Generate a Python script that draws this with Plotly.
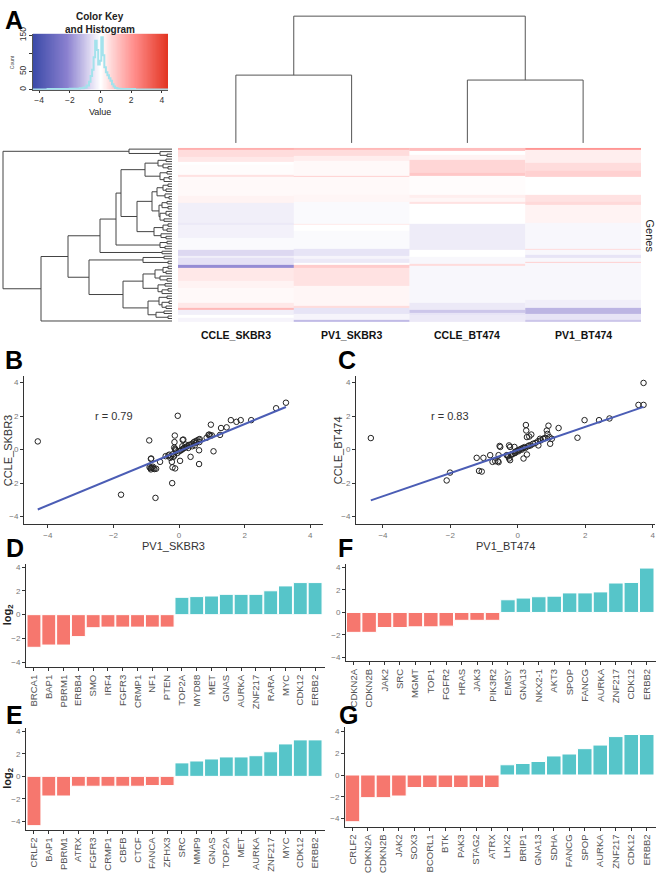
import numpy as np
import plotly.graph_objects as go

# ---------- data ----------
SAMPLES = ["CCLE_SKBR3", "PV1_SKBR3", "CCLE_BT474", "PV1_BT474"]

# heatmap bands per sample: (number of gene rows, log2 value), top to bottom
HEAT_CCLE_SKBR3 = [(2, 1.5), (7, 0.6), (5, 0.4), (3, 0.0), (10, 0.05), (2, 0.5), (20, 0.1), (7, 0.2),
                   (20, -0.3), (2, -0.4), (13, -0.25), (13, -0.1), (6, -0.7), (2, -0.3), (7, -0.55),
                   (3, -2.0), (13, 0.4), (7, 0.2), (15, 0.1), (5, 0.4), (2, 1.3), (6, -0.3), (3, 0.0), (4, -0.2)]
HEAT_PV1_SKBR3 = [(2, 1.3), (6, 0.6), (5, 0.3), (15, 0.1), (1, 0.8), (19, 0.1), (7, 0.15), (22, -0.1),
                  (1, 0.35), (6, 0.0), (19, -0.1), (7, -0.5), (3, -0.2), (4, -0.4), (2, 0.0), (3, 0.9),
                  (18, 0.5), (20, 0.15), (2, 0.6), (6, -0.5), (7, -0.2), (2, -1.2)]
HEAT_CCLE_BT474 = [(3, 1.2), (4, 0.0), (5, 0.2), (13, 0.7), (3, 1.0), (20, 0.05), (3, 0.3), (4, 0.15),
                   (2, 0.5), (20, 0.0), (27, -0.35), (7, 0.0), (7, -0.15), (2, 0.6), (37, -0.15),
                   (7, -0.4), (3, -1.0), (3, -0.5), (7, -0.4)]
HEAT_PV1_BT474 = [(2, 2.0), (13, 0.3), (8, 0.6), (6, 0.8), (19, 0.0), (7, 0.5), (3, 0.65), (18, 0.2),
                  (27, -0.15), (1, 0.6), (5, -0.15), (3, -0.5), (4, -0.15), (1, 0.8), (37, -0.15),
                  (8, -0.3), (6, -1.3), (7, -0.5), (2, -1.0)]

# colour key histogram
HIST_BINS = [-4.4, -2.5, -1.5, -1.2, -1.0, -0.8, -0.7, -0.6, -0.5, -0.4, -0.3, -0.2, -0.1, 0.0,
             0.1, 0.2, 0.3, 0.4, 0.5, 0.6, 0.7, 0.8, 0.9, 1.0, 1.2, 1.5, 2.0, 2.5, 4.4]
HIST_COUNTS = [1, 2, 3, 4, 6, 12, 22, 38, 55, 90, 135, 110, 70, 80,
               145, 95, 62, 48, 40, 32, 25, 15, 9, 5, 3, 2, 2, 1, 1]

# dendrograms: (merge height, left, right); "g" = leaf
g = "g"
COL_TREE = (1.0, (0.535, "CCLE_SKBR3", "PV1_SKBR3"), (0.496, "CCLE_BT474", "PV1_BT474"))
ROW_TREE = (169,
    (43, g, (12, g, (5, g, g))),
    (131,
        (104,
            (72,
                (56,
                    (51,
                        (27, (14, (6, g, g), (9, g, (4, g, g))),
                             (12, (5, g, g), (8, (3, g, g), g))),
                        (35,
                            (20, (15, (9, (4, g, g), (6, g, g)), (7, g, (3, g, g))),
                                 (13, (10, (5, g, g), (4, g, g)), (12, (6, g, (3, g, g)), (8, g, g)))),
                            (18, (9, (4, g, g), (5, g, g)), (11, g, (6, g, g))))),
                    (12, (5, g, g), (7, g, g))),
                (10, g, g)),
            (83,
                (29, (8, g, g), (4, g, g)),
                (49,
                    (29, (17, (9, (4, g, g), (6, g, g)), (12, g, (5, g, g))),
                         (14, (7, g, g), (10, (4, g, g), g))),
                    (24, (13, (5, g, g), (10, (3, g, g), (6, g, g))),
                         (16, (8, g, g), (4, g, g)))))),
        g))

# scatter B: PV1_SKBR3 vs CCLE_SKBR3
B_X = [-4.31, -1.77, -0.91, -0.72, -0.21, -0.04, -0.85, -0.86,
       -0.90, -0.87, -0.83, -0.78, -0.75, -0.70, -0.86, -0.80,
       -0.58, -0.41, -0.33, -0.27, -0.22, -0.19, -0.17, -0.25, -0.30, -0.15,
       -0.20, -0.12, -0.14, -0.13, -0.15, -0.11, -0.12, -0.10, 0.03,
       -0.05, 0.00, 0.05, 0.08, 0.12, 0.15, 0.20, 0.25, 0.30, 0.35, 0.40, 0.45, 0.50, 0.55, 0.60,
       0.10, 0.13, 0.11, 0.20, 0.28, 0.40, 0.52, 0.48, 0.62, 0.63,
       0.35, 0.61, 0.61, 1.05, 0.97, 0.90, 0.95, 0.84, 0.92, 1.00, 1.25,
       1.28, 1.45, 1.58, 1.75, 1.88, 2.20, 2.96, 3.26]
B_Y = [0.49, -2.69, 0.55, -2.88, -2.00, 2.02, -0.53, -0.55,
       -1.05, -1.10, -1.08, -1.12, -1.16, -1.14, -1.18, -1.02,
       -0.73, -0.39, -0.35, -0.49, -0.73, -0.27, -0.43, -0.40, -0.30, -0.35,
       -1.06, -1.12, 0.45, 0.84, 0.12, 0.00, 0.05, -0.05, -0.67,
       -0.20, -0.10, -0.05, 0.00, 0.05, 0.10, 0.15, 0.20, 0.28, 0.30, 0.35, 0.45, 0.50, 0.55, 0.60,
       0.20, 0.60, 0.58, 0.30, 0.10, 0.20, 0.41, 0.25, 0.45, 0.63,
       -0.43, -0.04, -0.86, -0.10, 1.49, 0.88, 0.84, 0.71, 0.90, 0.85, 0.88,
       1.29, 1.33, 1.76, 1.66, 1.76, 1.76, 2.47, 2.80]
B_FIT = (0.808, -0.09)
B_R = 0.79

# scatter C: PV1_BT474 vs CCLE_BT474
C_X = [-4.36, -2.11, -2.01, -1.15, -1.07, -1.22, -1.02, -0.82,
       -0.75, -0.67, -0.59, -0.57, -0.54, -0.52, -0.57, -0.33,
       -0.26, -0.23, -0.26, -0.23, -0.30, -0.20, -0.15, -0.10, -0.05, 0.00, 0.05, 0.10, 0.15, 0.20,
       -0.28, -0.18, -0.08, 0.02, 0.12, 0.22, 0.30, 0.38, 0.45, 0.52, 0.60, 0.68, 0.75, 0.82,
       -0.10, 0.17, 0.24, 0.25, 0.27, 0.34, 0.40, 0.27, 0.34, 0.61,
       0.66, 0.76, 0.86, 0.91, 0.88, 0.94, 0.96, 1.01, 1.21, 1.77, 1.98, 2.41, 2.72, 3.58, 3.73, 3.73]
C_Y = [0.69, -1.84, -1.37, -1.27, -1.31, -0.49, -0.49, -0.33,
       -0.73, -0.69, -0.69, -0.75, 0.22, 0.16, -0.33, -0.33,
       0.25, 0.16, -0.53, -0.63, -0.35, -0.30, -0.25, -0.20, -0.10, -0.05, 0.00, 0.05, 0.10, 0.15,
       -0.40, -0.30, -0.20, -0.10, 0.00, 0.10, 0.20, 0.25, 0.35, 0.40, 0.50, 0.55, 0.65, 0.70,
       0.16, -0.53, 1.47, 1.14, 0.75, 0.78, 0.90, -0.29, 0.25, 0.25,
       0.65, 0.65, 1.14, 1.43, 0.94, 0.75, 0.35, 0.65, 1.29, 0.71, 1.76, 1.76, 1.86, 2.67, 2.67, 3.98]
C_FIT = (0.69, -0.02)
C_R = 0.83

# bar panels
D_GENES = ["BRCA1", "BAP1", "PBRM1", "ERBB4", "SMO", "IRF4", "FGFR3", "CRMP1", "NF1", "PTEN",
           "TOP2A", "MYD88", "MET", "GNAS", "AURKA", "ZNF217", "RARA", "MYC", "CDK12", "ERBB2"]
D_VALS = [-2.75, -2.56, -2.56, -1.85, -1.10, -1.05, -1.05, -1.05, -1.05, -1.05,
          1.46, 1.52, 1.57, 1.71, 1.71, 1.71, 2.01, 2.42, 2.70, 2.70]
E_GENES = ["CRLF2", "BAP1", "PBRM1", "ATRX", "FGFR3", "CRMP1", "CBFB", "CTCF", "FANCA", "ZFHX3",
           "SRC", "MMP9", "GNAS", "TOP2A", "MET", "AURKA", "ZNF217", "MYC", "CDK12", "ERBB2"]
E_VALS = [-4.39, -1.75, -1.75, -0.88, -0.88, -0.88, -0.88, -0.88, -0.82, -0.82,
          1.20, 1.37, 1.55, 1.73, 1.73, 1.84, 2.19, 2.89, 3.25, 3.25]
F_GENES = ["CDKN2A", "CDKN2B", "JAK2", "SRC", "MGMT", "TOP1", "FGFR2", "HRAS", "JAK3", "PIK3R2",
           "EMSY", "GNA13", "NKX2-1", "AKT3", "SPOP", "FANCG", "AURKA", "ZNF217", "CDK12", "ERBB2"]
F_VALS = [-1.77, -1.77, -1.34, -1.34, -1.28, -1.28, -1.22, -0.70, -0.70, -0.70,
          1.13, 1.28, 1.40, 1.45, 1.74, 1.74, 1.83, 2.62, 2.67, 3.95]
G_GENES = ["CRLF2", "CDKN2A", "CDKN2B", "JAK2", "SOX3", "BCORL1", "BTK", "PAK3", "STAG2", "ATRX",
           "LHX2", "BRIP1", "GNA13", "SDHA", "FANCG", "SPOP", "AURKA", "ZNF217", "CDK12", "ERBB2"]
G_VALS = [-4.29, -2.08, -2.08, -1.93, -1.15, -1.15, -1.15, -1.15, -1.15, -1.15,
          0.94, 1.06, 1.24, 1.75, 1.93, 2.42, 2.75, 3.53, 3.72, 3.72]

# ---------- helpers ----------
W, H = 658, 873
FONT = "Liberation Sans, Arial, sans-serif"
SCALE = [[0.0, "#3b4aa8"], [0.25, "#8a80cf"], [0.44, "#e6e2f5"], [0.5, "#ffffff"],
         [0.58, "#ffd6d6"], [0.75, "#ff8c8a"], [1.0, "#e2321f"]]
ZLIM = 4.4


def dom_x(a, b):
    return [a / W, b / W]


def dom_y(top, bottom):
    return [1 - bottom / H, 1 - top / H]


def dendro(tree):
    pos, hgt = [], []
    count = [0]

    def walk(node):
        if isinstance(node, str):
            p = count[0] + 0.5
            count[0] += 1
            return p, 0.0
        h, a, b = node
        pa, ha = walk(a)
        pb, hb = walk(b)
        pos.extend([pa, pa, pb, pb, None])
        hgt.extend([ha, h, h, hb, None])
        return (pa + pb) / 2, h

    walk(tree)
    return pos, hgt, count[0]


def axis(**kw):
    base = dict(showline=True, linecolor="#333", linewidth=1, ticks="outside", ticklen=3,
                tickcolor="#333", tickfont=dict(size=8, color="#777", family=FONT),
                showgrid=False, zeroline=False)
    base.update(kw)
    return base


def txt(x, y, text, size=11, color="#333", **kw):
    # x, y in page pixels
    a = dict(x=x / W, y=1 - y / H, xref="paper", yref="paper", text=text, showarrow=False,
             xanchor="center", yanchor="middle", font=dict(size=size, color=color, family=FONT))
    a.update(kw)
    return a


hidden = dict(visible=False, showgrid=False, zeroline=False)

fig = go.Figure()
layout_axes = {}
annots = []

# ---------- A: colour key ----------
key_vals = np.linspace(-ZLIM, ZLIM, 241)
fig.add_trace(go.Heatmap(x=key_vals, y=[0, 155], z=[key_vals], colorscale=SCALE, zmin=-ZLIM, zmax=ZLIM,
                         showscale=False, hoverinfo="skip", xaxis="x", yaxis="y"))
fig.add_trace(go.Scatter(x=HIST_BINS, y=HIST_COUNTS, mode="lines", line=dict(color="#a3e2ec", width=2, shape="hvh"),
                         xaxis="x", yaxis="y", showlegend=False))
layout_axes["xaxis"] = axis(domain=dom_x(33, 168), range=[-4.4, 4.4], anchor="y", tickvals=[-4, -2, 0, 2, 4],
                            tickfont=dict(size=8.5, color="#333", family=FONT), ticklen=2, linecolor="#555")
layout_axes["yaxis"] = axis(domain=dom_y(27, 84), range=[0, 155], anchor="x", tickvals=[0, 50, 100, 150],
                            ticktext=["0", "50", "", "150"], tickangle=-90,
                            tickfont=dict(size=8.5, color="#333", family=FONT), ticklen=3, linecolor="#555")

# column dendrogram
cpos, chgt, _ = dendro(COL_TREE)
fig.add_trace(go.Scatter(x=cpos, y=chgt, mode="lines", line=dict(color="#555", width=1),
                         xaxis="x2", yaxis="y2", showlegend=False, hoverinfo="skip"))
layout_axes["xaxis2"] = dict(hidden, domain=dom_x(178, 641), range=[0, 4], anchor="y2")
layout_axes["yaxis2"] = dict(hidden, domain=dom_y(8, 138), range=[0, 1.01], anchor="x2")

# row dendrogram
rpos, rhgt, n_leaves = dendro(ROW_TREE)
fig.add_trace(go.Scatter(x=rhgt, y=rpos, mode="lines", line=dict(color="#444", width=1),
                         xaxis="x3", yaxis="y3", showlegend=False, hoverinfo="skip"))
layout_axes["xaxis3"] = dict(hidden, domain=dom_x(2, 173), range=[170, -1], anchor="y3")
layout_axes["yaxis3"] = dict(hidden, domain=dom_y(143, 320), range=[n_leaves, 0], anchor="x3")

# heatmap columns
for i, bands in enumerate([HEAT_CCLE_SKBR3, HEAT_PV1_SKBR3, HEAT_CCLE_BT474, HEAT_PV1_BT474]):
    edges = [0]
    for n, _v in bands:
        edges.append(edges[-1] + n)
    fig.add_trace(go.Heatmap(x=[i, i + 1], y=edges, z=[[v] for _n, v in bands], colorscale=SCALE,
                             zmin=-ZLIM, zmax=ZLIM, showscale=False, xaxis="x4", yaxis="y4",
                             hovertemplate=SAMPLES[i] + ": %{z}<extra></extra>"))
n_rows = sum(n for n, _ in HEAT_CCLE_SKBR3)
layout_axes["xaxis4"] = dict(hidden, domain=dom_x(178, 641), range=[0, 4], anchor="y4")
layout_axes["yaxis4"] = dict(hidden, domain=dom_y(143, 320), range=[n_rows, 0], anchor="x4")

col_w = (641 - 178) / 4
for i, s in enumerate(SAMPLES):
    annots.append(txt(178 + col_w * (i + 0.5), 333, "<b>%s</b>" % s, size=10.5, color="#111"))
annots.append(txt(650, 232, "Genes", size=11, color="#222", textangle=90))
annots += [
    txt(100, 10, "<b>Color Key</b>", size=10, color="#222"),
    txt(100, 23, "<b>and Histogram</b>", size=10, color="#222"),
    txt(100, 107, "Value", size=9, color="#222"),
    txt(12, 56, "Count", size=5, color="#444", textangle=-90),
]

# ---------- B / C scatter ----------
scatters = [
    ("5", B_X, B_Y, B_FIT, B_R, "PV1_SKBR3", "CCLE_SKBR3", (24, 323), [-4.73, 4.39], 8),
    ("6", C_X, C_Y, C_FIT, C_R, "PV1_BT474", "CCLE_BT474", (356, 655), [-4.80, 4.07], 338),
]
for n, xs, ys, fit, r, xt, yt, (xa, xb), xr, ytx in scatters:
    lo, hi = min(xs), max(xs)
    fig.add_trace(go.Scatter(x=xs, y=ys, mode="markers", xaxis="x" + n, yaxis="y" + n, showlegend=False,
                             marker=dict(symbol="circle-open", size=5.5, color="#222", line=dict(width=1))))
    fig.add_trace(go.Scatter(x=[lo, hi], y=[fit[0] * lo + fit[1], fit[0] * hi + fit[1]], mode="lines",
                             line=dict(color="#4b5db5", width=2), xaxis="x" + n, yaxis="y" + n,
                             showlegend=False, hoverinfo="skip"))
    layout_axes["xaxis" + n] = axis(domain=dom_x(xa, xb), range=xr, anchor="y" + n, tickvals=[-4, -2, 0, 2, 4])
    layout_axes["yaxis" + n] = axis(domain=dom_y(375, 525), range=[-4.45, 4.37], anchor="x" + n,
                                    tickvals=[-4, -2, 0, 2, 4])
    annots.append(dict(x=-2, y=2, xref="x" + n, yref="y" + n, text="r = %.2f" % r, showarrow=False,
                       xanchor="center", yanchor="middle", font=dict(size=11, color="#333", family=FONT)))
    annots.append(txt((xa + xb) / 2, 547, xt))
    annots.append(txt(ytx, 450, yt, textangle=-90))

# ---------- D / F / E / G bars ----------
bars = [
    ("7", D_GENES, D_VALS, (26, 325), (565, 670), [-0.54, 19.67], [-4.41, 4.3], True),
    ("8", F_GENES, F_VALS, (346, 656), (565, 664), [-0.5, 19.6], [-4.33, 4.35], False),
    ("9", E_GENES, E_VALS, (26, 325), (732, 835), [-0.54, 19.67], [-4.74, 4.3], True),
    ("10", G_GENES, G_VALS, (345, 656), (731, 832), [-0.48, 19.6], [-4.74, 4.4], False),
]
for n, genes, vals, (xa, xb), (ya, yb), xr, yr, ylab in bars:
    fig.add_trace(go.Bar(x=list(range(len(genes))), y=vals, xaxis="x" + n, yaxis="y" + n, showlegend=False,
                         marker=dict(color=["#f6776e" if v < 0 else "#56c5c9" for v in vals],
                                     line=dict(color="white", width=1)),
                         hovertext=genes, hoverinfo="text+y"))
    layout_axes["xaxis" + n] = axis(domain=dom_x(xa, xb), range=xr, anchor="y" + n,
                                    tickvals=list(range(len(genes))), ticktext=genes, tickangle=-90,
                                    tickfont=dict(size=9.5, color="#555", family=FONT))
    layout_axes["yaxis" + n] = axis(domain=dom_y(ya, yb), range=yr, anchor="x" + n, tickvals=[-4, -2, 0, 2, 4])
    if ylab:
        annots.append(txt(8, (ya + yb) / 2, "<b>log<sub>2</sub></b>", size=11, color="#222", textangle=-90))

# panel letters
for letter, lx, ly in [("A", 3, 13), ("B", 3, 358), ("C", 336, 358), ("D", 4, 549),
                       ("F", 336, 549), ("E", 4, 719), ("G", 337, 719)]:
    annots.append(txt(lx, ly, "<b>%s</b>" % letter, size=25, color="#000", xanchor="left"))

fig.update_layout(width=W, height=H, margin=dict(l=0, r=0, t=0, b=0), paper_bgcolor="white",
                  plot_bgcolor="white", bargap=0.06, annotations=annots, showlegend=False,
                  font=dict(family=FONT), **layout_axes)
fig.write_html("out.html", config={"displayModeBar": False},
               post_script="document.body.style.margin='0';document.body.style.overflow='hidden';")
